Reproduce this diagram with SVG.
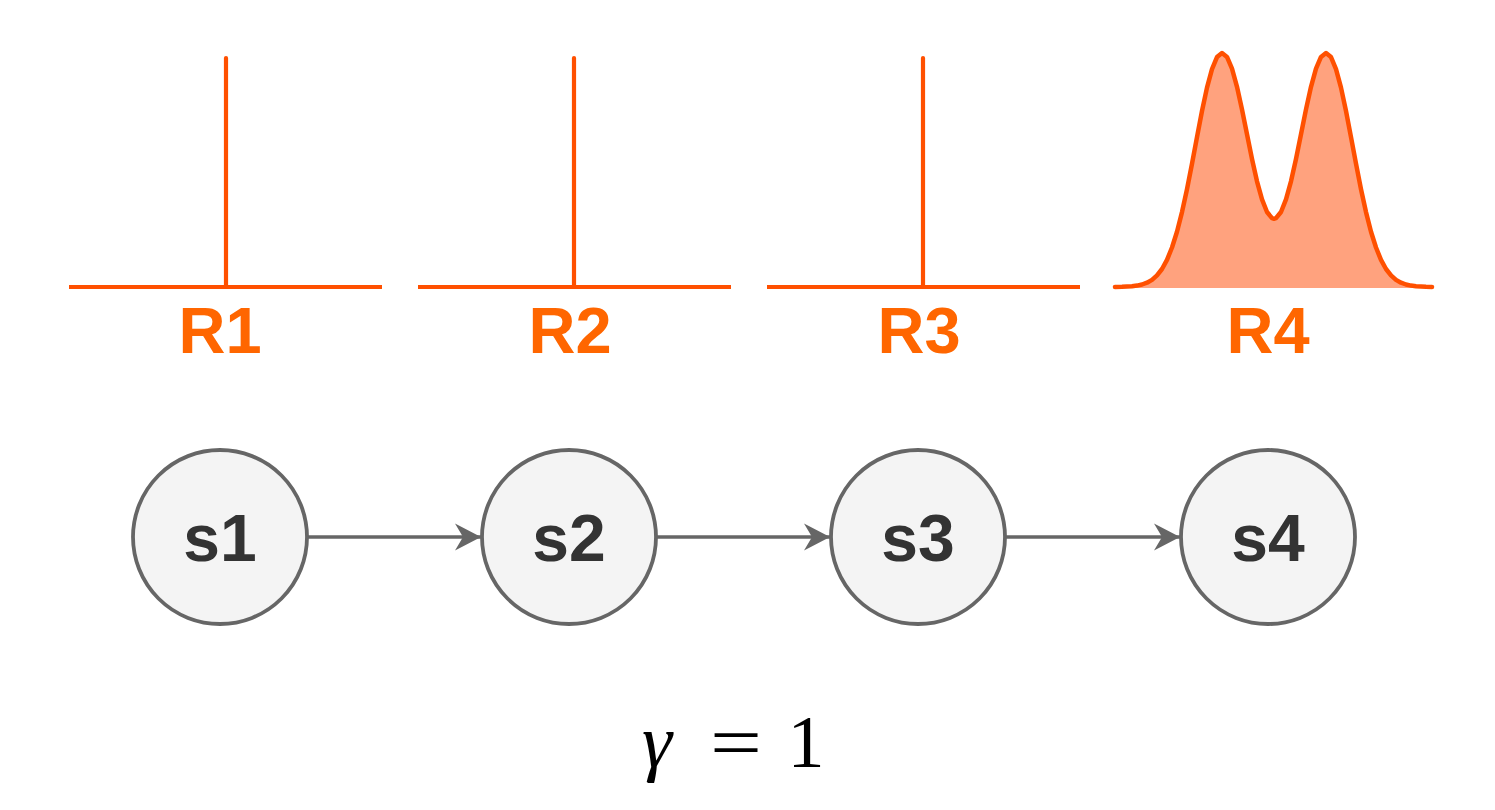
<svg xmlns="http://www.w3.org/2000/svg" width="1495" height="810" viewBox="0 0 1495 810">
<style>
.ax{stroke:#FF5000;stroke-width:4.2;fill:none;stroke-linecap:round;stroke-linejoin:round}
.rl{font-family:"Liberation Sans",Arial,sans-serif;font-weight:bold;font-size:65px;fill:#FF6600;text-anchor:middle}
.node{fill:#F4F4F4;stroke:#666666;stroke-width:3.8}
.nl{font-family:"Liberation Sans",Arial,sans-serif;font-weight:bold;font-size:66px;fill:#333333;text-anchor:middle}
.edge{stroke:#666666;stroke-width:3.5;fill:none}
.math{font-family:"Liberation Serif","Times New Roman",serif;fill:#000000}
</style>
<defs>
<marker id="arr" viewBox="0 0 30 30" refX="26" refY="15" markerWidth="30" markerHeight="30" markerUnits="userSpaceOnUse" orient="auto">
<path d="M26,15 L0,1.5 L8,15 L0,28.5 Z" fill="#666666"/>
</marker>
</defs>
<rect width="1495" height="810" fill="#FFFFFF"/>
<g id="R1">
<line class="ax" x1="69" y1="287" x2="382" y2="287" style="stroke-linecap:butt"/>
<line class="ax" x1="226" y1="58" x2="226" y2="287"/>
<text class="rl" x="220" y="353">R1</text>
</g>
<g id="R2">
<line class="ax" x1="418" y1="287" x2="731" y2="287" style="stroke-linecap:butt"/>
<line class="ax" x1="574" y1="58" x2="574" y2="287"/>
<text class="rl" x="570" y="353">R2</text>
</g>
<g id="R3">
<line class="ax" x1="767" y1="287" x2="1080" y2="287" style="stroke-linecap:butt"/>
<line class="ax" x1="923" y1="58" x2="923" y2="287"/>
<text class="rl" x="919" y="353">R3</text>
</g>
<g id="R4">
<polygon fill="#FFA27E" points="1115,287 1115,286.9 1122,286.8 1127,286.6 1132,286.3 1137,285.6 1142,284.5 1147,282.7 1152,279.9 1157,275.4 1162,269 1167,259.9 1172,247.5 1177,231.7 1182,212.1 1187,189.2 1192,163.7 1197,137.1 1202,111 1207,87.6 1212,69.1 1217,57.1 1222,53 1227,56.9 1232,68.6 1237,86.8 1242,109.4 1247,134.3 1252,159 1257,181.3 1262,199.4 1267,212 1272,218.2 1274,218.8 1276,218.2 1281,212 1286,199.4 1291,181.3 1296,159 1301,134.3 1306,109.4 1311,86.8 1316,68.6 1321,56.9 1326,53 1331,57.1 1336,69.1 1341,87.6 1346,111 1351,137.1 1356,163.7 1361,189.2 1366,212.1 1371,231.7 1376,247.5 1381,259.9 1386,269 1391,275.4 1396,279.9 1401,282.7 1406,284.5 1411,285.6 1416,286.3 1421,286.6 1426,286.8 1432,286.9 1432,288 1115,288"/>
<polyline class="ax" style="stroke-width:4.5" points="1115,286.9 1122,286.8 1127,286.6 1132,286.3 1137,285.6 1142,284.5 1147,282.7 1152,279.9 1157,275.4 1162,269 1167,259.9 1172,247.5 1177,231.7 1182,212.1 1187,189.2 1192,163.7 1197,137.1 1202,111 1207,87.6 1212,69.1 1217,57.1 1222,53 1227,56.9 1232,68.6 1237,86.8 1242,109.4 1247,134.3 1252,159 1257,181.3 1262,199.4 1267,212 1272,218.2 1274,218.8 1276,218.2 1281,212 1286,199.4 1291,181.3 1296,159 1301,134.3 1306,109.4 1311,86.8 1316,68.6 1321,56.9 1326,53 1331,57.1 1336,69.1 1341,87.6 1346,111 1351,137.1 1356,163.7 1361,189.2 1366,212.1 1371,231.7 1376,247.5 1381,259.9 1386,269 1391,275.4 1396,279.9 1401,282.7 1406,284.5 1411,285.6 1416,286.3 1421,286.6 1426,286.8 1432,286.9"/>
<text class="rl" x="1268" y="353">R4</text>
</g>
<g id="connectors">
<line class="edge" x1="308" y1="537" x2="481" y2="537" marker-end="url(#arr)"/>
<line class="edge" x1="657" y1="537" x2="830" y2="537" marker-end="url(#arr)"/>
<line class="edge" x1="1006" y1="537" x2="1180" y2="537" marker-end="url(#arr)"/>
</g>
<g id="s1">
<circle class="node" cx="220" cy="537" r="87"/>
<text class="nl" x="220" y="561">s1</text>
</g>
<g id="s2">
<circle class="node" cx="569" cy="537" r="87"/>
<text class="nl" x="569" y="561">s2</text>
</g>
<g id="s3">
<circle class="node" cx="918" cy="537" r="87"/>
<text class="nl" x="918" y="561">s3</text>
</g>
<g id="s4">
<circle class="node" cx="1268" cy="537" r="87"/>
<text class="nl" x="1268" y="561">s4</text>
</g>
<g id="gamma">
<text class="math" x="642" y="767" font-size="76" font-style="italic">γ</text>
<text class="math" x="710" y="767" font-size="74" textLength="52" lengthAdjust="spacingAndGlyphs">=</text>
<text class="math" x="806" y="767" font-size="74" text-anchor="middle">1</text>
</g>
</svg>
